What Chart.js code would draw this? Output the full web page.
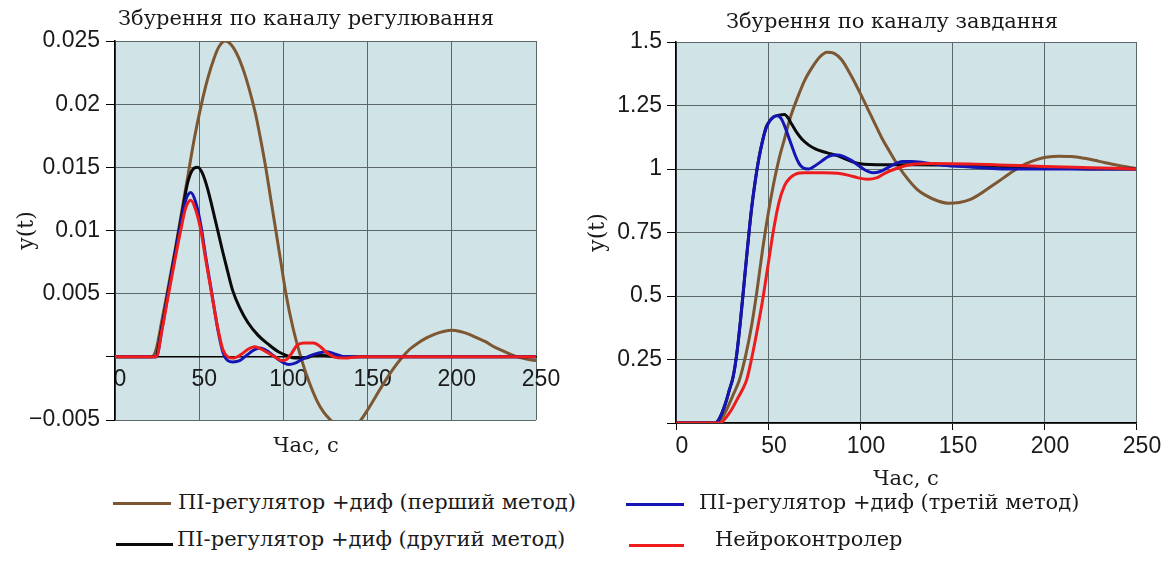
<!DOCTYPE html>
<html lang="uk">
<head>
<meta charset="utf-8">
<title>Збурення по каналах регулювання та завдання</title>
<script src="https://cdn.jsdelivr.net/npm/chart.js@4.4.1/dist/chart.umd.min.js"></script>
<style>
  html, body { margin: 0; padding: 0; background: #fff; }
  body { width: 1168px; height: 565px; position: relative; overflow: hidden; }
  canvas { position: absolute; top: 0; }
  #regCanvas { left: 0; }
  #taskCanvas { left: 580px; }
  .legend-line { position: absolute; height: 3px; }
  .legend-text { position: absolute; font-family: "DejaVu Serif", "Liberation Serif", serif; font-size: 21px; color: #1a1a1a; white-space: nowrap; line-height: 24px; }
</style>
</head>
<body>
<canvas id="regCanvas" width="612" height="470"></canvas>
<canvas id="taskCanvas" width="624" height="492"></canvas>

<div class="legend-line" style="left:113px; top:502px; width:58px; background:#7d5732"></div>
<div class="legend-text" style="left:178px; top:490px">ПІ-регулятор +диф (перший метод)</div>
<div class="legend-line" style="left:116px; top:543px; width:57px; background:#0a0a0a"></div>
<div class="legend-text" style="left:177px; top:527px">ПІ-регулятор +диф (другий метод)</div>
<div class="legend-line" style="left:626px; top:503px; width:58px; background:#1515b5"></div>
<div class="legend-text" style="left:699px; top:490px">ПІ-регулятор +диф (третій метод)</div>
<div class="legend-line" style="left:629px; top:544px; width:55px; background:#ee1c1c"></div>
<div class="legend-text" style="left:715px; top:527px">Нейроконтролер</div>

<script>
// ---- series names ----
const seriesNames = [
  'ПІ-регулятор +диф (перший метод)',
  'ПІ-регулятор +диф (другий метод)',
  'ПІ-регулятор +диф (третій метод)',
  'Нейроконтролер'
];

// ---- disturbance on the control channel: time (s) / y(t) ----
const regFirstT  = [0,21,24,28,32,36,40,43.5,47,51,55,59,62,65.5,69,73,77,80.5,83.5,86.5,89.5,92.5,95.5,98.5,101.5,105.5,110.3,115,120,124,128,132,137,142,146,150,155,160,165,170.8,175,180,185,190,195,200,205,210,215,220,225,230,235,239,245,250];
const regFirstY  = [0,0,0.0004,0.003,0.0058,0.0087,0.0118,0.0145,0.0172,0.0198,0.022,0.0237,0.0246,0.025,0.0247,0.0238,0.0224,0.0208,0.0192,0.0172,0.015,0.0125,0.01,0.0075,0.005,0.0024,0,-0.0019,-0.0035,-0.0044,-0.005,-0.0055,-0.0058,-0.0056,-0.005,-0.0042,-0.0031,-0.002,-0.001,0,0.0006,0.0011,0.0015,0.0018,0.002,0.0021,0.002,0.0018,0.0015,0.0012,0.0008,0.0005,0.0002,0,-0.0002,-0.0003];

const regSecondT = [0,24,28,32,36,40,43,46,49,52,55,58,61,64,67,70,74,79,85,91,97,102,107,113,118,124,132,250];
const regSecondY = [0,0,0.0025,0.0055,0.0085,0.0115,0.0137,0.0148,0.015,0.0145,0.0133,0.0117,0.01,0.0083,0.0067,0.0052,0.0039,0.0027,0.0017,0.001,0.0004,0.0001,-0.0001,-0.0001,0.0001,0.0001,0,0];

const regThirdT  = [0,24.5,28,31.8,35.5,39,42,45,48,51,54,57.4,61,64,67,70,74,78,82,86,90,94,98,103,107,111,116,121,126,131,137,250];
const regThirdY  = [0,0,0.0023,0.0052,0.0079,0.0105,0.0124,0.013,0.0122,0.0104,0.0078,0.0051,0.0022,0.0004,-0.0003,-0.0004,-0.0003,0.0001,0.0005,0.0007,0.0005,0.0001,-0.0003,-0.0006,-0.0005,-0.0002,0.0001,0.0003,0.0004,0.0002,0,0];

const regNeuroT  = [0,24.5,28,31.8,35.5,39,42,45,48,51,54,57.4,61,64,67,70,75,79,83,87,91,95,99,102,105,108,112,118,122,126,130,136,145,250];
const regNeuroY  = [0,0,0.0022,0.005,0.0076,0.01,0.0118,0.0124,0.0116,0.01,0.0076,0.005,0.0023,0.0006,0,-0.0001,0.0002,0.0006,0.0008,0.0006,0.0003,0,-0.0003,-0.0002,0.0003,0.0009,0.0011,0.0011,0.0008,0.0003,0,-0.0001,0,0];

// ---- disturbance on the setpoint channel: time (s) / y(t) ----
const taskFirstT  = [0,22,25,28,31,34.5,38,41,44,47,50,53,56,59,62,66,70,74,78,82,86,90,95,100,104,108,112,116,121,126,131,136,142,148,154,160,166,172,178,184,190,196,202,208,215,222,230,240,250];
const taskFirstY  = [0,0,0.02,0.06,0.11,0.17,0.27,0.38,0.52,0.68,0.82,0.94,1.04,1.12,1.2,1.28,1.35,1.4,1.44,1.46,1.455,1.43,1.37,1.3,1.24,1.18,1.12,1.07,1.01,0.96,0.92,0.895,0.875,0.865,0.868,0.88,0.905,0.935,0.965,0.995,1.02,1.037,1.047,1.05,1.049,1.042,1.03,1.015,1.002];

const taskSecondT = [0,21,23,25,27,29,31,33,35,37,39,41,43,45,47,49,51,53,56,59,61,63,65.5,68.5,72,76,80,84,88,92,96,100,105,115,130,150,170,190,210,230,250];
const taskSecondY = [0,0,0.01,0.04,0.08,0.13,0.18,0.27,0.4,0.55,0.7,0.84,0.95,1.04,1.11,1.165,1.19,1.205,1.212,1.215,1.2,1.175,1.145,1.117,1.095,1.078,1.068,1.06,1.052,1.04,1.028,1.021,1.018,1.017,1.017,1.015,1.012,1.007,1.003,1.0,1.0];

const taskThirdT  = [0,21,23,25,27,29,31,33,35,37,39,41,43,45,47,49,51,53,55,57,59,61,63,65,67,69,72,75,79,83,87,91,95,99,103,107,111,115,119,123,128,135,145,160,180,250];
const taskThirdY  = [0,0,0.01,0.04,0.08,0.13,0.18,0.27,0.4,0.55,0.7,0.84,0.95,1.04,1.11,1.16,1.19,1.205,1.21,1.2,1.17,1.13,1.09,1.05,1.02,1.005,1.0,1.01,1.03,1.05,1.055,1.05,1.035,1.015,0.995,0.985,0.99,1.005,1.02,1.03,1.03,1.025,1.015,1.008,1.0,1.0];

const taskNeuroT  = [0,24,27,30,33,36,38.4,41,44,47,50,53,56,59,62,65,70,80,88,94,99,104,109,114,119,124,130,140,160,180,200,225,250];
const taskNeuroY  = [0,0,0.02,0.05,0.09,0.13,0.17,0.25,0.36,0.48,0.62,0.76,0.87,0.935,0.965,0.98,0.985,0.985,0.983,0.975,0.965,0.96,0.965,0.985,1.0,1.012,1.02,1.022,1.02,1.015,1.01,1.005,1.0];

// ---- axis ticks ----
const timeTicks = [0, 50, 100, 150, 200, 250];
const regTicks  = [-0.005, 0, 0.005, 0.01, 0.015, 0.02, 0.025];
const taskTicks = [0, 0.25, 0.5, 0.75, 1, 1.25, 1.5];

// ---- styling ----
const COLORS = ['#7d5732', '#0a0a0a', '#1515b5', '#ee1c1c'];
const PLOT_BG = '#d0e4e8';
const GRID = '#5c6767';
const SERIF = '"DejaVu Serif", "Liberation Serif", serif';
const SANS = '"Liberation Sans", Arial, sans-serif';

function points(ts, ys) { return ts.map((t, i) => ({ x: t, y: ys[i] })); }

function dataset(idx, ts, ys) {
  return {
    label: seriesNames[idx],
    data: points(ts, ys),
    borderColor: COLORS[idx],
    backgroundColor: COLORS[idx],
    borderWidth: 3,
    pointRadius: 0,
    fill: false,
    cubicInterpolationMode: 'monotone'
  };
}

// draws the tinted plot area behind the grid
const plotBackground = {
  id: 'plotBackground',
  beforeDraw(chart) {
    const { ctx, chartArea: a } = chart;
    ctx.save();
    ctx.fillStyle = PLOT_BG;
    ctx.fillRect(a.left, a.top, a.right - a.left, a.bottom - a.top);
    ctx.restore();
  }
};

function fmtTick(v) {
  if (Math.abs(v) < 1e-12) return '';
  const s = String(Math.abs(+v.toFixed(4)));
  return v < 0 ? '\u2212' + s : s;
}

function ticksFrom(list) {
  return function (axis) { axis.ticks = list.map(v => ({ value: v })); };
}

// empty right-hand margin axis that reserves space to the right of the plot
function gutter(width) {
  return {
    type: 'linear', position: 'right', min: 0, max: 1,
    grid: { display: false }, border: { display: false },
    ticks: { display: false },
    afterFit(axis) { axis.width = width; }
  };
}

const tickFont = { family: SANS, size: 23 };
const serifFont = (size) => ({ family: SERIF, size: size, weight: 'normal', lineHeight: 1.2 });

// series drawn with the neuro-controller on top
function datasetsFor(sets) {
  return [3, 2, 1, 0].map(i => dataset(i, sets[i][0], sets[i][1]));
}

new Chart(document.getElementById('regCanvas'), {
  type: 'line',
  data: {
    datasets: datasetsFor([
      [regFirstT, regFirstY], [regSecondT, regSecondY],
      [regThirdT, regThirdY], [regNeuroT, regNeuroY]
    ])
  },
  options: {
    responsive: false,
    animation: false,
    events: [],
    layout: { padding: { top: 0, right: 0, bottom: 10.8, left: 0 } },
    plugins: {
      legend: { display: false },
      tooltip: { enabled: false },
      title: {
        display: true, text: 'Збурення по каналу регулювання',
        color: '#1a1a1a', font: serifFont(21), padding: { top: 7, bottom: 8.8 }
      },
      subtitle: {
        display: true, position: 'bottom', text: 'Час, с',
        color: '#1a1a1a', font: serifFont(21), padding: { top: 14, bottom: 0 }
      }
    },
    scales: {
      x: {
        type: 'linear', position: { y: 0 }, min: 0, max: 250,
        afterBuildTicks: ticksFrom(timeTicks),
        ticks: { font: tickFont, color: '#1a1a1a', padding: 9, labelOffset: 5, maxRotation: 0 },
        grid: { color: GRID, lineWidth: 1, drawTicks: false },
        border: { color: '#000', width: 1.5 }
      },
      y: {
        type: 'linear', min: -0.005, max: 0.025,
        afterBuildTicks: ticksFrom(regTicks),
        afterFit(axis) { axis.width = 115; },
        ticks: { font: tickFont, color: '#1a1a1a', padding: 6, callback: fmtTick },
        grid: { color: GRID, lineWidth: 1, tickColor: '#000', tickLength: 9 },
        border: { color: '#000', width: 1.5 },
        title: { display: true, text: 'y(t)', color: '#1a1a1a', font: serifFont(22), padding: { top: 14, bottom: 0 } }
      },
      gutter: gutter(76)
    }
  },
  plugins: [plotBackground]
});

new Chart(document.getElementById('taskCanvas'), {
  type: 'line',
  data: {
    datasets: datasetsFor([
      [taskFirstT, taskFirstY], [taskSecondT, taskSecondY],
      [taskThirdT, taskThirdY], [taskNeuroT, taskNeuroY]
    ])
  },
  options: {
    responsive: false,
    animation: false,
    events: [],
    layout: { padding: { top: 0, right: 0, bottom: 0, left: 0 } },
    plugins: {
      legend: { display: false },
      tooltip: { enabled: false },
      title: {
        display: true, text: 'Збурення по каналу завдання',
        color: '#1a1a1a', font: serifFont(21), padding: { top: 10.4, bottom: 6.4 }
      }
    },
    scales: {
      x: {
        type: 'linear', position: 'bottom', min: 0, max: 250,
        afterBuildTicks: ticksFrom(timeTicks),
        afterFit(axis) { axis.height = 69; },
        ticks: { font: tickFont, color: '#1a1a1a', padding: 3, labelOffset: 6, maxRotation: 0 },
        grid: { color: GRID, lineWidth: 1, tickColor: '#000', tickLength: 7 },
        border: { color: '#000', width: 1.5 },
        title: { display: true, text: 'Час, с', color: '#1a1a1a', font: serifFont(21), padding: { top: 0, bottom: 0 } }
      },
      y: {
        type: 'linear', min: 0, max: 1.5,
        afterBuildTicks: ticksFrom(taskTicks),
        afterFit(axis) { axis.width = 96; },
        ticks: { font: tickFont, color: '#1a1a1a', padding: 5, callback: fmtTick },
        grid: { color: GRID, lineWidth: 1, tickColor: '#000', tickLength: 9 },
        border: { color: '#000', width: 1.5 },
        title: { display: true, text: 'y(t)', color: '#1a1a1a', font: serifFont(22), padding: { top: 5, bottom: 0 } }
      },
      gutter: gutter(68)
    }
  },
  plugins: [plotBackground]
});
</script>
</body>
</html>
